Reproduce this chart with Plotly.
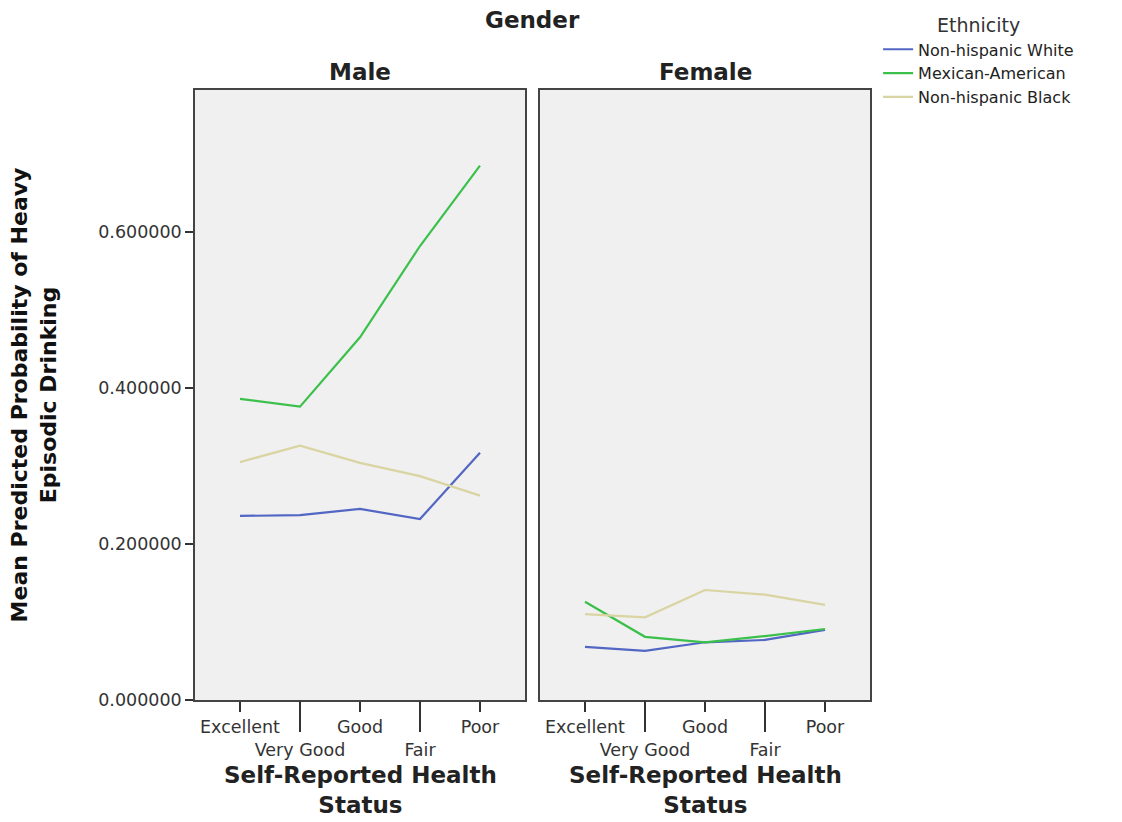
import plotly.graph_objects as go

categories = ["Excellent", "Very Good", "Good", "Fair", "Poor"]
tick_text = ["Excellent", "<br>Very Good", "Good", "<br>Fair", "Poor"]
long_tick_cats = ["Very Good", "Fair"]
y_ticks = [0.0, 0.2, 0.4, 0.6]

ethnicities = ["Non-hispanic White", "Mexican-American", "Non-hispanic Black"]
colors = ["#5266c4", "#3cc04c", "#d9d4a2"]

male_white = [0.236, 0.237, 0.245, 0.232, 0.317]
male_mexican = [0.386, 0.376, 0.465, 0.582, 0.685]
male_black = [0.305, 0.326, 0.304, 0.287, 0.262]

female_white = [0.068, 0.063, 0.074, 0.077, 0.090]
female_mexican = [0.126, 0.081, 0.074, 0.082, 0.091]
female_black = [0.110, 0.106, 0.141, 0.135, 0.122]

male = [male_white, male_mexican, male_black]
female = [female_white, female_mexican, female_black]

fig = go.Figure()
for i, name in enumerate(ethnicities):
    fig.add_trace(go.Scatter(x=categories, y=male[i], mode="lines", name=name,
                             line=dict(color=colors[i], width=2.2),
                             xaxis="x", yaxis="y", legendgroup=name))
    fig.add_trace(go.Scatter(x=categories, y=female[i], mode="lines", name=name,
                             line=dict(color=colors[i], width=2.2), showlegend=False,
                             xaxis="x2", yaxis="y2", legendgroup=name))

# invisible helper traces so the long-tick overlay axes know the categories
for ax in ["x3", "x4"]:
    fig.add_trace(go.Scatter(x=categories, y=[None] * 5, mode="lines", showlegend=False,
                             hoverinfo="skip", xaxis=ax, yaxis="y" if ax == "x3" else "y2",
                             line=dict(color="rgba(0,0,0,0)")))

xr = [-0.75, 4.75]
tick_font = dict(family="DejaVu Sans", size=17.5, color="#333333")
frame = dict(showline=True, mirror=True, linecolor="#444444", linewidth=1.5)

xbase = dict(type="category", categoryorder="array", categoryarray=categories, range=xr,
             tickvals=categories, ticktext=tick_text, ticks="outside", ticklen=10,
             tickcolor="#333333", tickwidth=1.5, tickfont=tick_font, showgrid=False,
             zeroline=False, tickangle=0, automargin=False, **frame)
xlong = dict(type="category", categoryorder="array", categoryarray=categories, range=xr,
             tickvals=long_tick_cats, ticks="outside", ticklen=31, tickcolor="#333333",
             tickwidth=1.5, showticklabels=False, showgrid=False, zeroline=False,
             showline=False, automargin=False)

d1 = [0, 330 / 675]
d2 = [345 / 675, 1]
c1 = (d1[0] + d1[1]) / 2
c2 = (d2[0] + d2[1]) / 2

title_font = dict(size=23, color="#222222")

fig.update_layout(
    width=1122, height=822,
    margin=dict(l=195, r=252, t=90, b=122, autoexpand=False),
    paper_bgcolor="white", plot_bgcolor="#f0f0f0",
    font=dict(family="DejaVu Sans", color="#222222"),
    xaxis=dict(domain=d1, anchor="y", **xbase),
    xaxis2=dict(domain=d2, anchor="y2", **xbase),
    xaxis3=dict(domain=d1, anchor="y", overlaying="x", **xlong),
    xaxis4=dict(domain=d2, anchor="y2", overlaying="x2", **xlong),
    yaxis=dict(range=[0, 0.782], tickvals=y_ticks, tickformat=".6f", ticks="outside",
               ticklen=8, tickcolor="#333333", tickwidth=1.5, tickfont=tick_font,
               showgrid=False, zeroline=False, anchor="x", automargin=False,
               title=dict(text="<b>Mean Predicted Probability of Heavy<br>Episodic Drinking</b>",
                          font=dict(size=22, color="#111111"), standoff=36),
               **frame),
    yaxis2=dict(range=[0, 0.782], matches="y", anchor="x2", showticklabels=False,
                ticks="", showgrid=False, zeroline=False, automargin=False, **frame),
    legend=dict(x=1.012, y=1.135, xanchor="left", yanchor="top",
                title=dict(text="Ethnicity", side="top center",
                           font=dict(size=19, color="#333333")),
                font=dict(size=16, color="#222222"), tracegroupgap=0,
                itemwidth=30, bgcolor="rgba(0,0,0,0)"),
    showlegend=True,
    annotations=[
        dict(text="<b>Gender</b>", x=0.5, y=1.115, xref="paper", yref="paper",
             xanchor="center", yanchor="middle", showarrow=False, font=title_font),
        dict(text="<b>Male</b>", x=c1, y=1.03, xref="paper", yref="paper",
             xanchor="center", yanchor="middle", showarrow=False, font=title_font),
        dict(text="<b>Female</b>", x=c2, y=1.03, xref="paper", yref="paper",
             xanchor="center", yanchor="middle", showarrow=False, font=title_font),
        dict(text="<b>Self-Reported Health<br>Status</b>", x=c1, y=-0.098,
             xref="paper", yref="paper", xanchor="center", yanchor="top",
             showarrow=False, font=dict(size=23, color="#222222")),
        dict(text="<b>Self-Reported Health<br>Status</b>", x=c2, y=-0.098,
             xref="paper", yref="paper", xanchor="center", yanchor="top",
             showarrow=False, font=dict(size=23, color="#222222")),
    ],
)

fig.write_html("out.html", config={"displayModeBar": False},
               post_script="document.body.style.margin='0px';")
